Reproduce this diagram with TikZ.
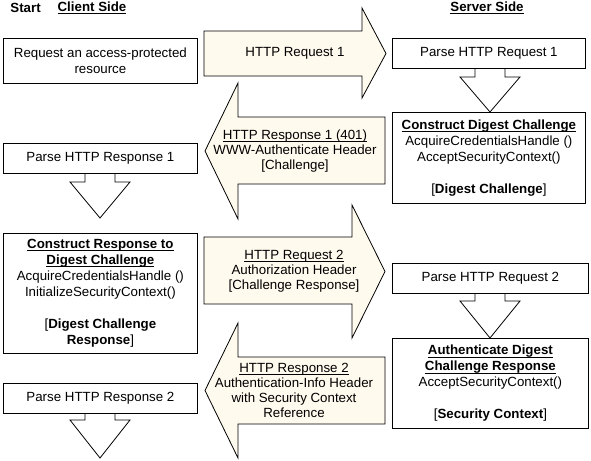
\documentclass[tikz,border=0pt]{standalone}
\usepackage{fontspec}
\setmainfont{Liberation Sans}
\newcommand{\undl}[1]{\leavevmode\setbox0=\hbox{#1}\rlap{\rule[-2.5pt]{\wd0}{0.8pt}}\box0}
\definecolor{msgfill}{RGB}{255,250,238}

\begin{document}
\begin{tikzpicture}[x=1pt,y=-1pt,line width=0.8pt,line join=miter]
	\tikzstyle{every node} = [font=\fontsize{13.3}{16}\selectfont, inner sep=0pt, align=center]
	\tikzstyle{box} = [draw, fill=white, anchor=north west, minimum height=30pt]
	\tikzstyle{msg} = [draw, fill=msgfill]
	\tikzstyle{msgtext} = [font=\fontsize{13.3}{15}\selectfont]
	\tikzstyle{down} = [draw, fill=white]
	\tikzstyle{title} = [font=\fontsize{13.3}{16}\selectfont\bfseries]
	\useasboundingbox (0,0) rectangle (591,460);
	% headings
	\node[title, anchor=west]	(start)		at (10,8)	{Start};
	\node[title]				(client)	at (92,8)	{\undl{Client Side}};
	\node[title]				(server)	at (487,8)	{\undl{Server Side}};
	% messages
	\draw[msg] (204,31) -- (362,31) -- (362,8) -- (386,53.5) -- (362,98) -- (362,76) -- (204,76) -- cycle;
	\draw[msg] (385,117) -- (238,117) -- (238,83) -- (205,151) -- (238,219) -- (238,184) -- (385,184) -- cycle;
	\draw[msg] (204,237) -- (352,237) -- (352,205) -- (385,271.5) -- (352,338) -- (352,304) -- (204,304) -- cycle;
	\draw[msg] (385,357) -- (238,357) -- (238,323) -- (205,390.5) -- (238,458) -- (238,424) -- (385,424) -- cycle;
	\node[msgtext]	(req1)	at (295,53.5)	{HTTP Request 1};
	\node[msgtext]	(resp1)	at (295,151)	{\undl{HTTP Response 1 (401)}\\WWW-Authenticate Header\\{[Challenge]}};
	\node[msgtext]	(req2)	at (294,271.5)	{\undl{HTTP Request 2}\\Authorization Header\\{[Challenge Response]}};
	\node[msgtext]	(resp2)	at (294,390.5)	{\undl{HTTP Response 2}\\Authentication-Info Header\\with Security Context\\Reference};
	% steps
	\draw[down] (85,173) -- (85,182) -- (70,182) -- (100,218) -- (130,182) -- (115,182) -- (115,173) -- cycle;
	\draw[down] (85,412) -- (85,420) -- (70,420) -- (100,458) -- (130,420) -- (115,420) -- (115,412) -- cycle;
	\draw[down] (475,68) -- (475,77) -- (460,77) -- (490,112) -- (520,77) -- (505,77) -- (505,68) -- cycle;
	\draw[down] (475,293) -- (475,301) -- (460,301) -- (490,338) -- (520,301) -- (505,301) -- (505,293) -- cycle;
	\node[box, minimum width=194pt, minimum height=45pt]	(access)	at (3,38)	{Request an access-protected\\resource};
	\node[box, minimum width=194pt]						(parse1)	at (3,143)	{Parse HTTP Response 1};
	\node[box, minimum width=194pt, minimum height=120pt]	(answer)	at (3,233)
		{\textbf{\undl{Construct Response to}}\\\textbf{\undl{Digest Challenge}}\\AcquireCredentialsHandle ()\\InitializeSecurityContext()\\[16pt]{[}\textbf{Digest Challenge}\\\textbf{Response}]};
	\node[box, minimum width=194pt]						(parse2)	at (3,383)	{Parse HTTP Response 2};
	\node[box, minimum width=193pt]						(parsereq1)	at (392,38)	{Parse HTTP Request 1};
	\node[box, minimum width=193pt, minimum height=91pt]	(challenge)	at (392,112)
		{\textbf{\undl{Construct Digest Challenge}}\\AcquireCredentialsHandle ()\\AcceptSecurityContext()\\[16pt]{[}\textbf{Digest Challenge}]};
	\node[box, minimum width=196pt]						(parsereq2)	at (392,263)	{Parse HTTP Request 2};
	\node[box, minimum width=196pt, minimum height=90pt]	(verify)	at (392,338)
		{\textbf{\undl{Authenticate Digest}}\\\textbf{\undl{Challenge Response}}\\AcceptSecurityContext()\\[16pt]{[}\textbf{Security Context}]};
\end{tikzpicture}
\end{document}
